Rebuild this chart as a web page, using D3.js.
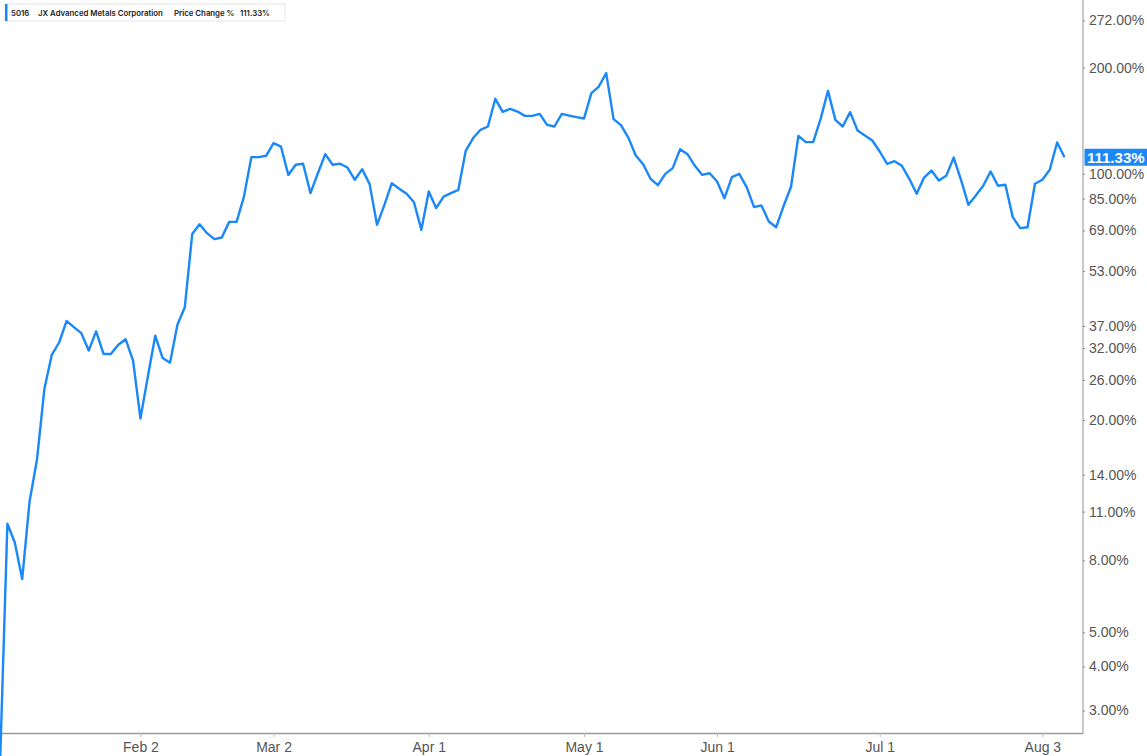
<!DOCTYPE html>
<html>
<head>
<meta charset="utf-8">
<script src="https://cdn.jsdelivr.net/npm/d3@7"></script>
<style>
  html, body { margin: 0; padding: 0; background: #fff; }
  svg { display: block; }
</style>
</head>
<body>
<svg id="chart" width="1147" height="756"></svg>
<script>
// ---- data ----
const ticker = "5016";
const company = "JX Advanced Metals Corporation";
const measure = "Price Change %";
const lastLabel = "111.33%";

// one value per trading session (index 0 = first session)
const values = [
  2.1, 10.16, 8.99, 7.08, 11.75, 15.43, 24.5, 30.6, 33.2, 38.2,
  36.7, 35.3, 31.5, 35.7, 30.8, 30.8, 32.7, 33.9, 29.5, 20.2,
  26.6, 34.7, 30.0, 29.1, 37.3, 41.8, 67.4, 71.9, 67.8, 65.2,
  65.9, 73.0, 73.0, 86.1, 111.4, 111.4, 112.4, 122.1, 119.4, 99.2,
  106.0, 106.7, 88.1, 100.3, 113.6, 106.0, 106.7, 104.1, 96.1, 103.0,
  93.4, 71.6, 81.6, 94.0, 90.6, 87.7, 83.0, 69.3, 89.0, 79.9,
  86.1, 88.1, 90.0, 116.1, 126.2, 133.2, 136.1, 163.1, 149.8, 152.7,
  150.1, 145.9, 145.9, 147.8, 137.6, 136.1, 147.8, 146.2, 144.7, 143.4,
  169.2, 176.7, 192.9, 142.8, 137.3, 126.6, 112.6, 106.4, 96.7, 92.8,
  99.9, 103.7, 117.4, 113.6, 105.3, 99.2, 100.3, 95.0, 85.2, 97.8,
  99.9, 91.6, 80.4, 81.3, 73.2, 70.5, 81.0, 91.8, 128.0, 122.9,
  122.9, 142.8, 171.8, 142.1, 136.1, 149.5, 132.6, 128.3, 124.2, 115.6,
  106.7, 108.5, 105.3, 96.7, 87.7, 97.5, 102.1, 95.6, 98.6, 111.1,
  96.1, 81.6, 86.7, 92.4, 101.4, 92.4, 93.0, 75.3, 70.1, 70.5,
  93.6, 96.1, 102.6, 122.6, 111.33
];

const xTickIndex = [19, 37, 58, 79, 97, 119, 141];
const xTickLabels = ["Feb 2", "Mar 2", "Apr 1", "May 1", "Jun 1", "Jul 1", "Aug 3"];
const yTicks = [3, 4, 5, 8, 11, 14, 20, 26, 32, 37, 53, 69, 85, 100, 200, 272];

// ---- layout ----
const W = 1147, H = 756;
const plotRight = 1083, plotBottom = 733;
const blue = "#1a88f8";
const font = "'Liberation Sans', Arial, sans-serif";

const svg = d3.select("#chart");

const x = d3.scaleLinear().domain([0, 146.5]).range([0, plotRight]);
const y = d3.scaleLog().domain([2.59, 311]).range([plotBottom, 0]);

// x axis
const xAxis = d3.axisBottom(x)
  .tickValues(xTickIndex)
  .tickFormat((d, i) => xTickLabels[i])
  .tickSizeInner(4).tickSizeOuter(0).tickPadding(5);
const gx = svg.append("g").attr("transform", `translate(0,${plotBottom})`).call(xAxis);
gx.select(".domain").attr("stroke", "#9a9a9a").attr("stroke-width", 1.5);
gx.selectAll(".tick line").attr("stroke", "#bbb");
gx.selectAll(".tick text").attr("fill", "#555").style("font-family", font).style("font-size", "14px");

// y axis on right
const yAxis = d3.axisRight(y)
  .tickValues(yTicks)
  .tickFormat(d => d3.format(".2f")(d) + "%")
  .tickSizeInner(2).tickSizeOuter(0).tickPadding(4);
const gy = svg.append("g").attr("transform", `translate(${plotRight},0)`).call(yAxis);
gy.select(".domain").attr("stroke", "#c8c8c8").attr("stroke-width", 2)
  .attr("d", `M0,0V${plotBottom}`);
gy.selectAll(".tick line").attr("stroke", "#888");
gy.selectAll(".tick text").attr("fill", "#555").style("font-family", font).style("font-size", "14px");

// line
const line = d3.line().x((d, i) => x(i)).y(d => y(d));
svg.append("path")
  .datum(values)
  .attr("fill", "none")
  .attr("stroke", blue)
  .attr("stroke-width", 2.4)
  .attr("stroke-linejoin", "round")
  .attr("d", line);

// last value label
const lastY = y(values[values.length - 1]);
svg.append("rect")
  .attr("x", plotRight + 1.5).attr("y", lastY - 8.5)
  .attr("width", W - plotRight).attr("height", 17)
  .attr("fill", blue);
svg.append("text")
  .attr("x", plotRight + 4).attr("y", lastY + 5.5)
  .attr("fill", "#fff")
  .style("font-family", font).style("font-size", "15px").style("font-weight", "bold")
  .text(lastLabel);

// legend
const lg = svg.append("g").attr("transform", "translate(5,4)");
lg.append("rect").attr("x", 0).attr("y", 0).attr("width", 280).attr("height", 17)
  .attr("fill", "#fff").attr("stroke", "#e6e6e6");
lg.append("rect").attr("x", 0).attr("y", 0).attr("width", 2.5).attr("height", 17).attr("fill", blue);
const legendItems = [
  { t: ticker, x: 6 },
  { t: company, x: 33 },
  { t: measure, x: 169 },
  { t: lastLabel, x: 235 }
];
lg.selectAll("text.leg").data(legendItems).enter().append("text")
  .attr("class", "leg")
  .attr("x", d => d.x).attr("y", 11.5)
  .attr("fill", "#222")
  .style("font-family", "Inter, 'Noto Sans', sans-serif")
  .style("font-size", "7.8px").style("font-weight", "600")
  .text(d => d.t);
</script>
</body>
</html>
